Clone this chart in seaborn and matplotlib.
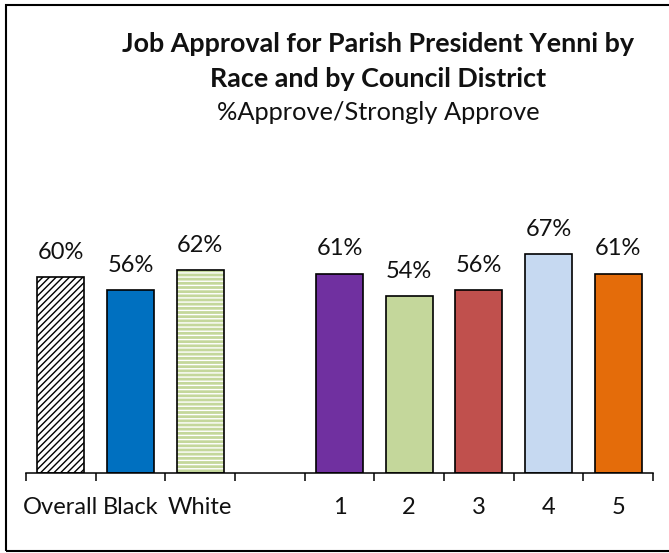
import matplotlib
matplotlib.use("Agg")
import matplotlib.pyplot as plt
from matplotlib.patches import Rectangle
import seaborn as sns
import pandas as pd

# Approval by group (percent approve / strongly approve)
groups = ["Overall", "Black", "White", "1", "2", "3", "4", "5"]
approval = [60, 56, 62, 61, 54, 56, 67, 61]
# category slots on the x axis, with a spacer between race and district
slots = ["Overall", "Black", "White", " ", "1", "2", "3", "4", "5"]
bar_colors = ["#FFFFFF", "#0070C0", "#C4D79B", "#7030A0", "#C4D79B",
              "#C0504D", "#C6D9F1", "#E46C0A"]

sns.set_style("white")
plt.rcParams["font.family"] = ["Lato", "DejaVu Sans"]
plt.rcParams["hatch.linewidth"] = 1.0

W, H = 669, 553
fig = plt.figure(figsize=(W / 100, H / 100), dpi=100)
ax = fig.add_axes([26 / W, 1 - 473 / H, (653 - 26) / W, (473 - 146) / H])

df = pd.DataFrame({"group": groups, "approval": approval})
sns.barplot(data=df, x="group", y="approval", order=slots, color="white",
            width=0.675, edgecolor="black", linewidth=1.2, ax=ax)

bars = sorted(ax.patches, key=lambda p: p.get_x())
for patch, grp, col, val in zip(bars, groups, bar_colors, approval):
    patch.set_facecolor(col)
    if grp == "Overall":
        patch.set_hatch("/////")
        patch.set_edgecolor("black")
    elif grp == "White":
        # white horizontal stripes over green, then a black outline
        patch.set_edgecolor("white")
        patch.set_linewidth(0)
        patch.set_hatch("----")
        ax.add_patch(Rectangle((patch.get_x(), patch.get_y()),
                               patch.get_width(), patch.get_height(),
                               fill=False, edgecolor="black", linewidth=1.2,
                               zorder=patch.get_zorder() + 0.1))
    cx = patch.get_x() + patch.get_width() / 2
    ax.annotate(f"{val}%", (cx, patch.get_height()), xytext=(0, 13),
                textcoords="offset points", ha="center", va="baseline",
                fontsize=17, color="#111111")

ax.set_xlim(-0.5, 8.5)
ax.set_ylim(0, 100)
ax.set_xlabel("")
ax.set_ylabel("")
ax.set_yticks([])
for side in ("top", "right", "left"):
    ax.spines[side].set_visible(False)
ax.spines["bottom"].set_color("black")
ax.spines["bottom"].set_linewidth(1.1)

ax.set_xticks(range(len(slots)))
ax.set_xticklabels(slots)
ax.set_xticks([i - 0.5 for i in range(len(slots) + 1)], minor=True)
ax.tick_params(axis="x", which="major", length=0, pad=17, labelsize=17,
               labelcolor="#111111")
ax.tick_params(axis="x", which="minor", bottom=True, length=6, width=1.1,
               color="black", direction="out")

tx = 378 / W
fig.text(tx, 1 - 52 / H, "Job Approval for Parish President Yenni by",
         ha="center", va="baseline", fontsize=19.4, fontweight="bold",
         color="#111111")
fig.text(tx, 1 - 87 / H, "Race and by Council District",
         ha="center", va="baseline", fontsize=19.4, fontweight="bold",
         color="#111111")
fig.text(tx, 1 - 120 / H, "%Approve/Strongly Approve",
         ha="center", va="baseline", fontsize=18.3, color="#111111")

# chart frame
fig.patches.append(Rectangle((6 / W, 1 - 551 / H), 1.02 - 6 / W, (551 - 5) / H,
                             transform=fig.transFigure, fill=False,
                             edgecolor="black", linewidth=1.5))

fig.savefig("out.png", dpi=100)
